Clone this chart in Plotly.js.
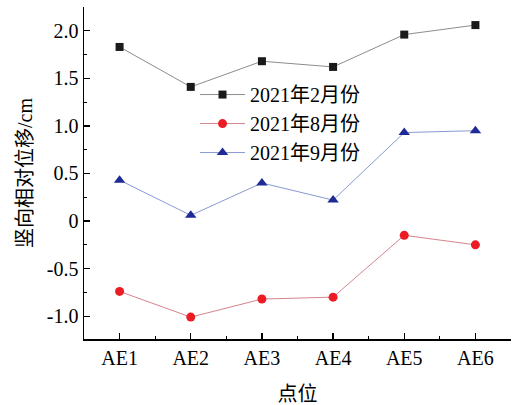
<!DOCTYPE html>
<html>
<head>
<meta charset="utf-8">
<script src="https://cdn.plot.ly/plotly-3.0.1.min.js"></script>
<style>html,body{margin:0;padding:0;background:#fff;}#chart{width:522px;height:405px;}</style>
</head>
<body>
<div id="chart"></div>
<script>
const categories = ["AE1", "AE2", "AE3", "AE4", "AE5", "AE6"];
const seriesNames = ["2021年2月份", "2021年8月份", "2021年9月份"];
const feb = [1.83, 1.41, 1.68, 1.62, 1.96, 2.06];
const aug = [-0.74, -1.01, -0.82, -0.80, -0.15, -0.25];
const sep = [0.43, 0.06, 0.40, 0.22, 0.93, 0.95];
const yTickVals = [-1.0, -0.5, 0, 0.5, 1.0, 1.5, 2.0];
const yTickText = ["-1.0", "-0.5", "0", "0.5", "1.0", "1.5", "2.0"];

const FONT = "'Liberation Serif', 'Times New Roman', 'Noto Sans CJK SC', serif";
const xIdx = categories.map((_, i) => i);

const traces = [
  {x: xIdx, y: feb, name: seriesNames[0], mode: "lines+markers",
   line: {color: "#8c8c8c", width: 1},
   marker: {symbol: "square", size: 8, color: "#1a1a1a"}},
  {x: xIdx, y: aug, name: seriesNames[1], mode: "lines+markers",
   line: {color: "#d4848c", width: 1},
   marker: {symbol: "circle", size: 9, color: "#ec1c24"}},
  {x: xIdx, y: sep, name: seriesNames[2], mode: "lines+markers",
   line: {color: "#8a9ad0", width: 1},
   marker: {symbol: "triangle-up", size: 10, color: "#1f2a96"}}
];

const layout = {
  width: 522, height: 405,
  margin: {l: 84, r: 11, t: 7, b: 66},
  paper_bgcolor: "#fff", plot_bgcolor: "#fff",
  font: {family: FONT, size: 20, color: "#000"},
  showlegend: true,
  legend: {x: 0.26, y: 0.795, xanchor: "left", yanchor: "top",
           bgcolor: "rgba(0,0,0,0)", font: {family: FONT, size: 20, color: "#000"},
           tracegroupgap: 0, itemwidth: 45},
  xaxis: {
    range: [-0.5, 5.5], tickvals: xIdx, ticktext: categories,
    showline: true, linecolor: "#000", linewidth: 1.5, mirror: false,
    ticks: "inside", ticklen: 6, tickcolor: "#000", tickwidth: 1.2,
    minor: {ticks: "inside", ticklen: 3, tickcolor: "#000", tickwidth: 1, tick0: 0.5, dtick: 1},
    showgrid: false, zeroline: false,
    tickfont: {family: FONT, size: 20},
    title: {text: "点位", font: {family: FONT, size: 20}, standoff: 24}
  },
  yaxis: {
    range: [-1.24, 2.25], tickvals: yTickVals, ticktext: yTickText,
    showline: true, linecolor: "#000", linewidth: 1.5, mirror: false,
    ticks: "inside", ticklen: 6, tickcolor: "#000", tickwidth: 1.2,
    minor: {ticks: "inside", ticklen: 3, tickcolor: "#000", tickwidth: 1, tick0: 0.25, dtick: 0.5},
    showgrid: false, zeroline: false,
    tickfont: {family: FONT, size: 20},
    title: {text: "竖向相对位移/cm", font: {family: FONT, size: 20}, standoff: 9}
  }
};

Plotly.newPlot("chart", traces, layout, {displayModeBar: false, staticPlot: true});
</script>
</body>
</html>
